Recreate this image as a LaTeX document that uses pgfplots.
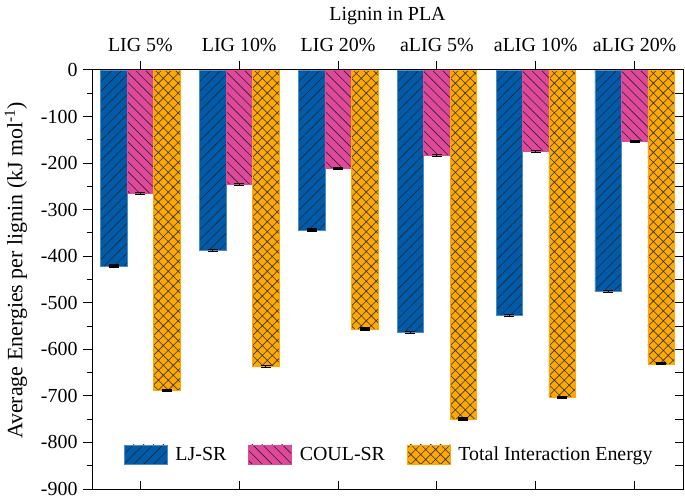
\documentclass[border=0pt]{standalone}
\usepackage{fontspec}
\setmainfont{Liberation Serif}
\usepackage{pgfplots}
\pgfplotsset{compat=1.18}
\usetikzlibrary{patterns.meta}
\definecolor{cblue}{RGB}{0,92,171}
\definecolor{cpink}{RGB}{224,72,155}
\definecolor{corange}{RGB}{255,168,0}
\newcommand{\fs}{\fontsize{20}{24}\selectfont}
\begin{document}
\begin{tikzpicture}
\pgfplotsset{
  common/.style={
    scale only axis, width=591bp, height=419bp,
    xmin=-0.49, xmax=5.49, ymin=-900, ymax=0,
    axis line style={line width=1pt},
    tick style={black, line width=1pt},
  },
  errs/.style={error bars/.cd, y dir=both, y explicit,
    error bar style={black, line width=1pt},
    error mark options={rotate=90, mark size=5bp, line width=1.5pt, black}},
}
\begin{axis}[common, name=main,
  xtick={0,1,2,3,4,5},
  xticklabels={LIG 5\%, LIG 10\%, LIG 20\%, aLIG 5\%, aLIG 10\%, aLIG 20\%},
  xtick pos=right, xticklabel pos=right,
  ytick={-900,-800,...,0}, ytick pos=left,
  minor y tick num=1,
  tick align=outside,
  major tick length=9bp, minor tick length=5bp,
  /pgf/number format/assume math mode=true,
  tick label style={font=\fs},
  every x tick label/.append style={yshift=6bp},
  every y tick label/.append style={xshift=-2bp},
  label style={font=\fs},
  xlabel={Lignin in PLA},
  xlabel style={yshift=6bp},
  ylabel={Average Energies per lignin (kJ mol\textsuperscript{-1})},
  ylabel style={font=\fontsize{22}{26}\selectfont, yshift=7bp, xshift=9bp},
  legend image code/.code={\draw[#1] (0bp,-9.5bp) rectangle (43bp,9.5bp);},
  legend columns=3,
  legend cell align=left,
  legend style={at={(0.503,0.083)}, anchor=center, draw=none, fill=none, font=\fs,
    /tikz/every odd column/.append style={column sep=6bp},
    /tikz/every even column/.append style={column sep=20bp}},
]
\addplot[ybar, bar width=0.268, bar shift=0, fill=cblue, draw=cblue!70!white,
  postaction={pattern={Lines[angle=45,distance=7bp,line width=0.6bp]}, pattern color=black!85},
  errs] coordinates {
  (-0.268,-421) +- (0,2)
  (0.732,-388) +- (0,2)
  (1.732,-344) +- (0,2)
  (2.732,-564) +- (0,2)
  (3.732,-527) +- (0,2)
  (4.732,-476) +- (0,2)
};
\addlegendentry{LJ-SR}
\addplot[ybar, bar width=0.268, bar shift=0, fill=cpink, draw=cpink,
  postaction={pattern={Lines[angle=-45,distance=7bp,line width=0.6bp]}, pattern color=black!85},
  errs] coordinates {
  (0,-265) +- (0,2)
  (1,-246) +- (0,2)
  (2,-211) +- (0,2)
  (3,-184) +- (0,2)
  (4,-175) +- (0,2)
  (5,-154) +- (0,2)
};
\addlegendentry{COUL-SR}
\addplot[ybar, bar width=0.268, bar shift=0, fill=corange, draw=corange,
  postaction={pattern={Hatch[angle=45,distance=7bp,line width=0.6bp]}, pattern color=black!80},
  errs] coordinates {
  (0.268,-688) +- (0,2)
  (1.268,-637) +- (0,2)
  (2.268,-556) +- (0,2)
  (3.268,-750) +- (0,2)
  (4.268,-703) +- (0,2)
  (5.268,-631) +- (0,2)
};
\addlegendentry{Total Interaction Energy}
\end{axis}
\begin{axis}[common,
  xtick={0,1,2,3,4,5}, xticklabels={}, xtick pos=left,
  ytick={-850,-800,...,-50}, yticklabels={}, ytick pos=right,
  tick align=inside, major tick length=8bp,
]
\end{axis}
\pgfresetboundingbox
\path (main.south west) ++(-92bp,-10bp) rectangle ++(685bp,499bp);
\end{tikzpicture}
\end{document}
